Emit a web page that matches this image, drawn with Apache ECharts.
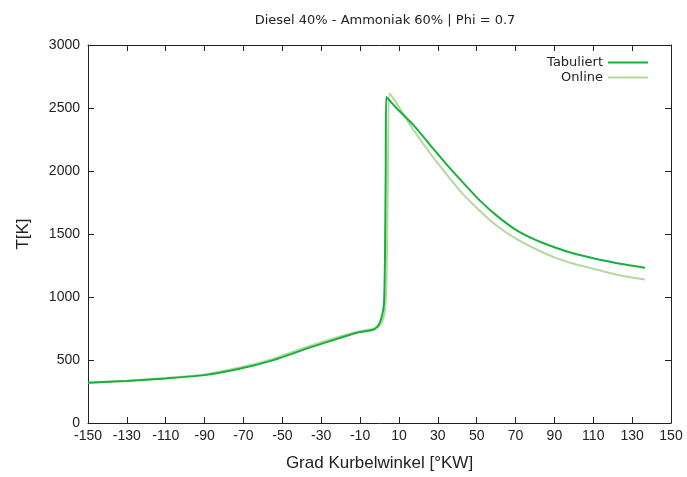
<!DOCTYPE html>
<html>
<head>
<meta charset="utf-8">
<script src="https://cdn.jsdelivr.net/npm/echarts@6/dist/echarts.min.js"></script>
<style>
  html, body { margin: 0; padding: 0; background: #fff; }
  #chart { width: 687px; height: 477px; }
</style>
</head>
<body>
<div id="chart"></div>
<script>
// Kurbelwinkel [°KW] und Temperatur [K]
var angleTab = [-150, -130, -110, -90, -72, -55, -37.5, -20, -10, -3.2, -0.6, 1.1, 2.3, 2.8, 3.2, 3.4, 8.8, 17.4, 26, 34.6, 43.1, 51.7, 60, 70, 80, 90, 100, 110, 124, 136.6];
var tempTab  = [320, 333, 354, 380, 430, 497, 590, 677, 722, 740, 775, 840, 945, 1300, 2000, 2590, 2498, 2366, 2208, 2050, 1906, 1765, 1650, 1535, 1455, 1395, 1345, 1308, 1264, 1233];

var angleOnl = [-150, -130, -110, -90, -72, -55, -37.5, -20, -10, -5, -2, 0, 2, 3, 3.7, 4.3, 5.2, 8.8, 17.4, 26, 34.6, 43.1, 51.7, 60, 70, 80, 90, 100, 110, 124, 136.6];
var tempOnl  = [320, 335, 357, 385, 440, 508, 603, 688, 728, 742, 750, 770, 830, 930, 1200, 1900, 2616, 2537, 2327, 2142, 1972, 1814, 1683, 1570, 1465, 1383, 1315, 1264, 1224, 1170, 1138];

var xTicks = [-150, -130, -110, -90, -70, -50, -30, -10, 10, 30, 50, 70, 90, 110, 130, 150];

function pairs(xs, ys) {
    var out = [];
    for (var i = 0; i < xs.length; i++) out.push([xs[i], ys[i]]);
    return out;
}

var chart = echarts.init(document.getElementById('chart'));
var frame = { show: true, onZero: false, lineStyle: { color: '#222', width: 1 } };
var tick = { show: true, inside: true, length: 6, lineStyle: { color: '#222' } };

var option = {
    animation: false,
    title: {
        text: 'Diesel 40% - Ammoniak 60% | Phi = 0.7',
        left: 380, top: 9, textAlign: 'center',
        textStyle: { fontFamily: 'DejaVu Sans', fontSize: 13, fontWeight: 'normal', color: '#222' }
    },
    legend: {
        orient: 'vertical', right: 34, top: 51, align: 'right',
        itemWidth: 40, itemHeight: 2, itemGap: 2,
        icon: 'rect',
        textStyle: { fontFamily: 'DejaVu Sans', fontSize: 13, color: '#222' },
        data: ['Tabuliert', 'Online']
    },
    grid: { left: 88, right: 16, top: 45, bottom: 50 },
    xAxis: [{
        type: 'value', min: -150, max: 150,
        name: 'Grad Kurbelwinkel [°KW]', nameLocation: 'middle', nameGap: 32,
        nameTextStyle: { fontFamily: 'Liberation Sans', fontSize: 17, color: '#222' },
        axisLine: frame,
        axisTick: Object.assign({ customValues: xTicks }, tick),
        axisLabel: { customValues: xTicks, fontFamily: 'Liberation Sans', fontSize: 14, color: '#222', margin: 6 },
        splitLine: { show: false }
    }, {
        type: 'value', min: -150, max: 150, position: 'top',
        axisLine: frame,
        axisTick: Object.assign({ customValues: xTicks }, tick),
        axisLabel: { show: false }, splitLine: { show: false }
    }],
    yAxis: [{
        type: 'value', min: 0, max: 3000, interval: 500,
        name: 'T[K]', nameLocation: 'middle', nameGap: 56,
        nameTextStyle: { fontFamily: 'Liberation Sans', fontSize: 17, color: '#222' },
        axisLine: frame, axisTick: tick,
        axisLabel: { fontFamily: 'Liberation Sans', fontSize: 14, color: '#222', margin: 8,
            formatter: function (v) { return String(v); } },
        splitLine: { show: false }
    }, {
        type: 'value', min: 0, max: 3000, interval: 500, position: 'right',
        axisLine: frame, axisTick: tick,
        axisLabel: { show: false }, splitLine: { show: false }
    }],
    series: [{
        name: 'Tabuliert', type: 'line', showSymbol: false, z: 3,
        smooth: 0.2,
        itemStyle: { color: '#17b03c' },
        lineStyle: { color: '#17b03c', width: 2 },
        data: pairs(angleTab, tempTab)
    }, {
        name: 'Online', type: 'line', showSymbol: false, z: 2,
        smooth: 0.2,
        itemStyle: { color: '#b3d99d' },
        lineStyle: { color: '#b3d99d', width: 2 },
        data: pairs(angleOnl, tempOnl)
    }]
};
chart.setOption(option);
</script>
</body>
</html>
